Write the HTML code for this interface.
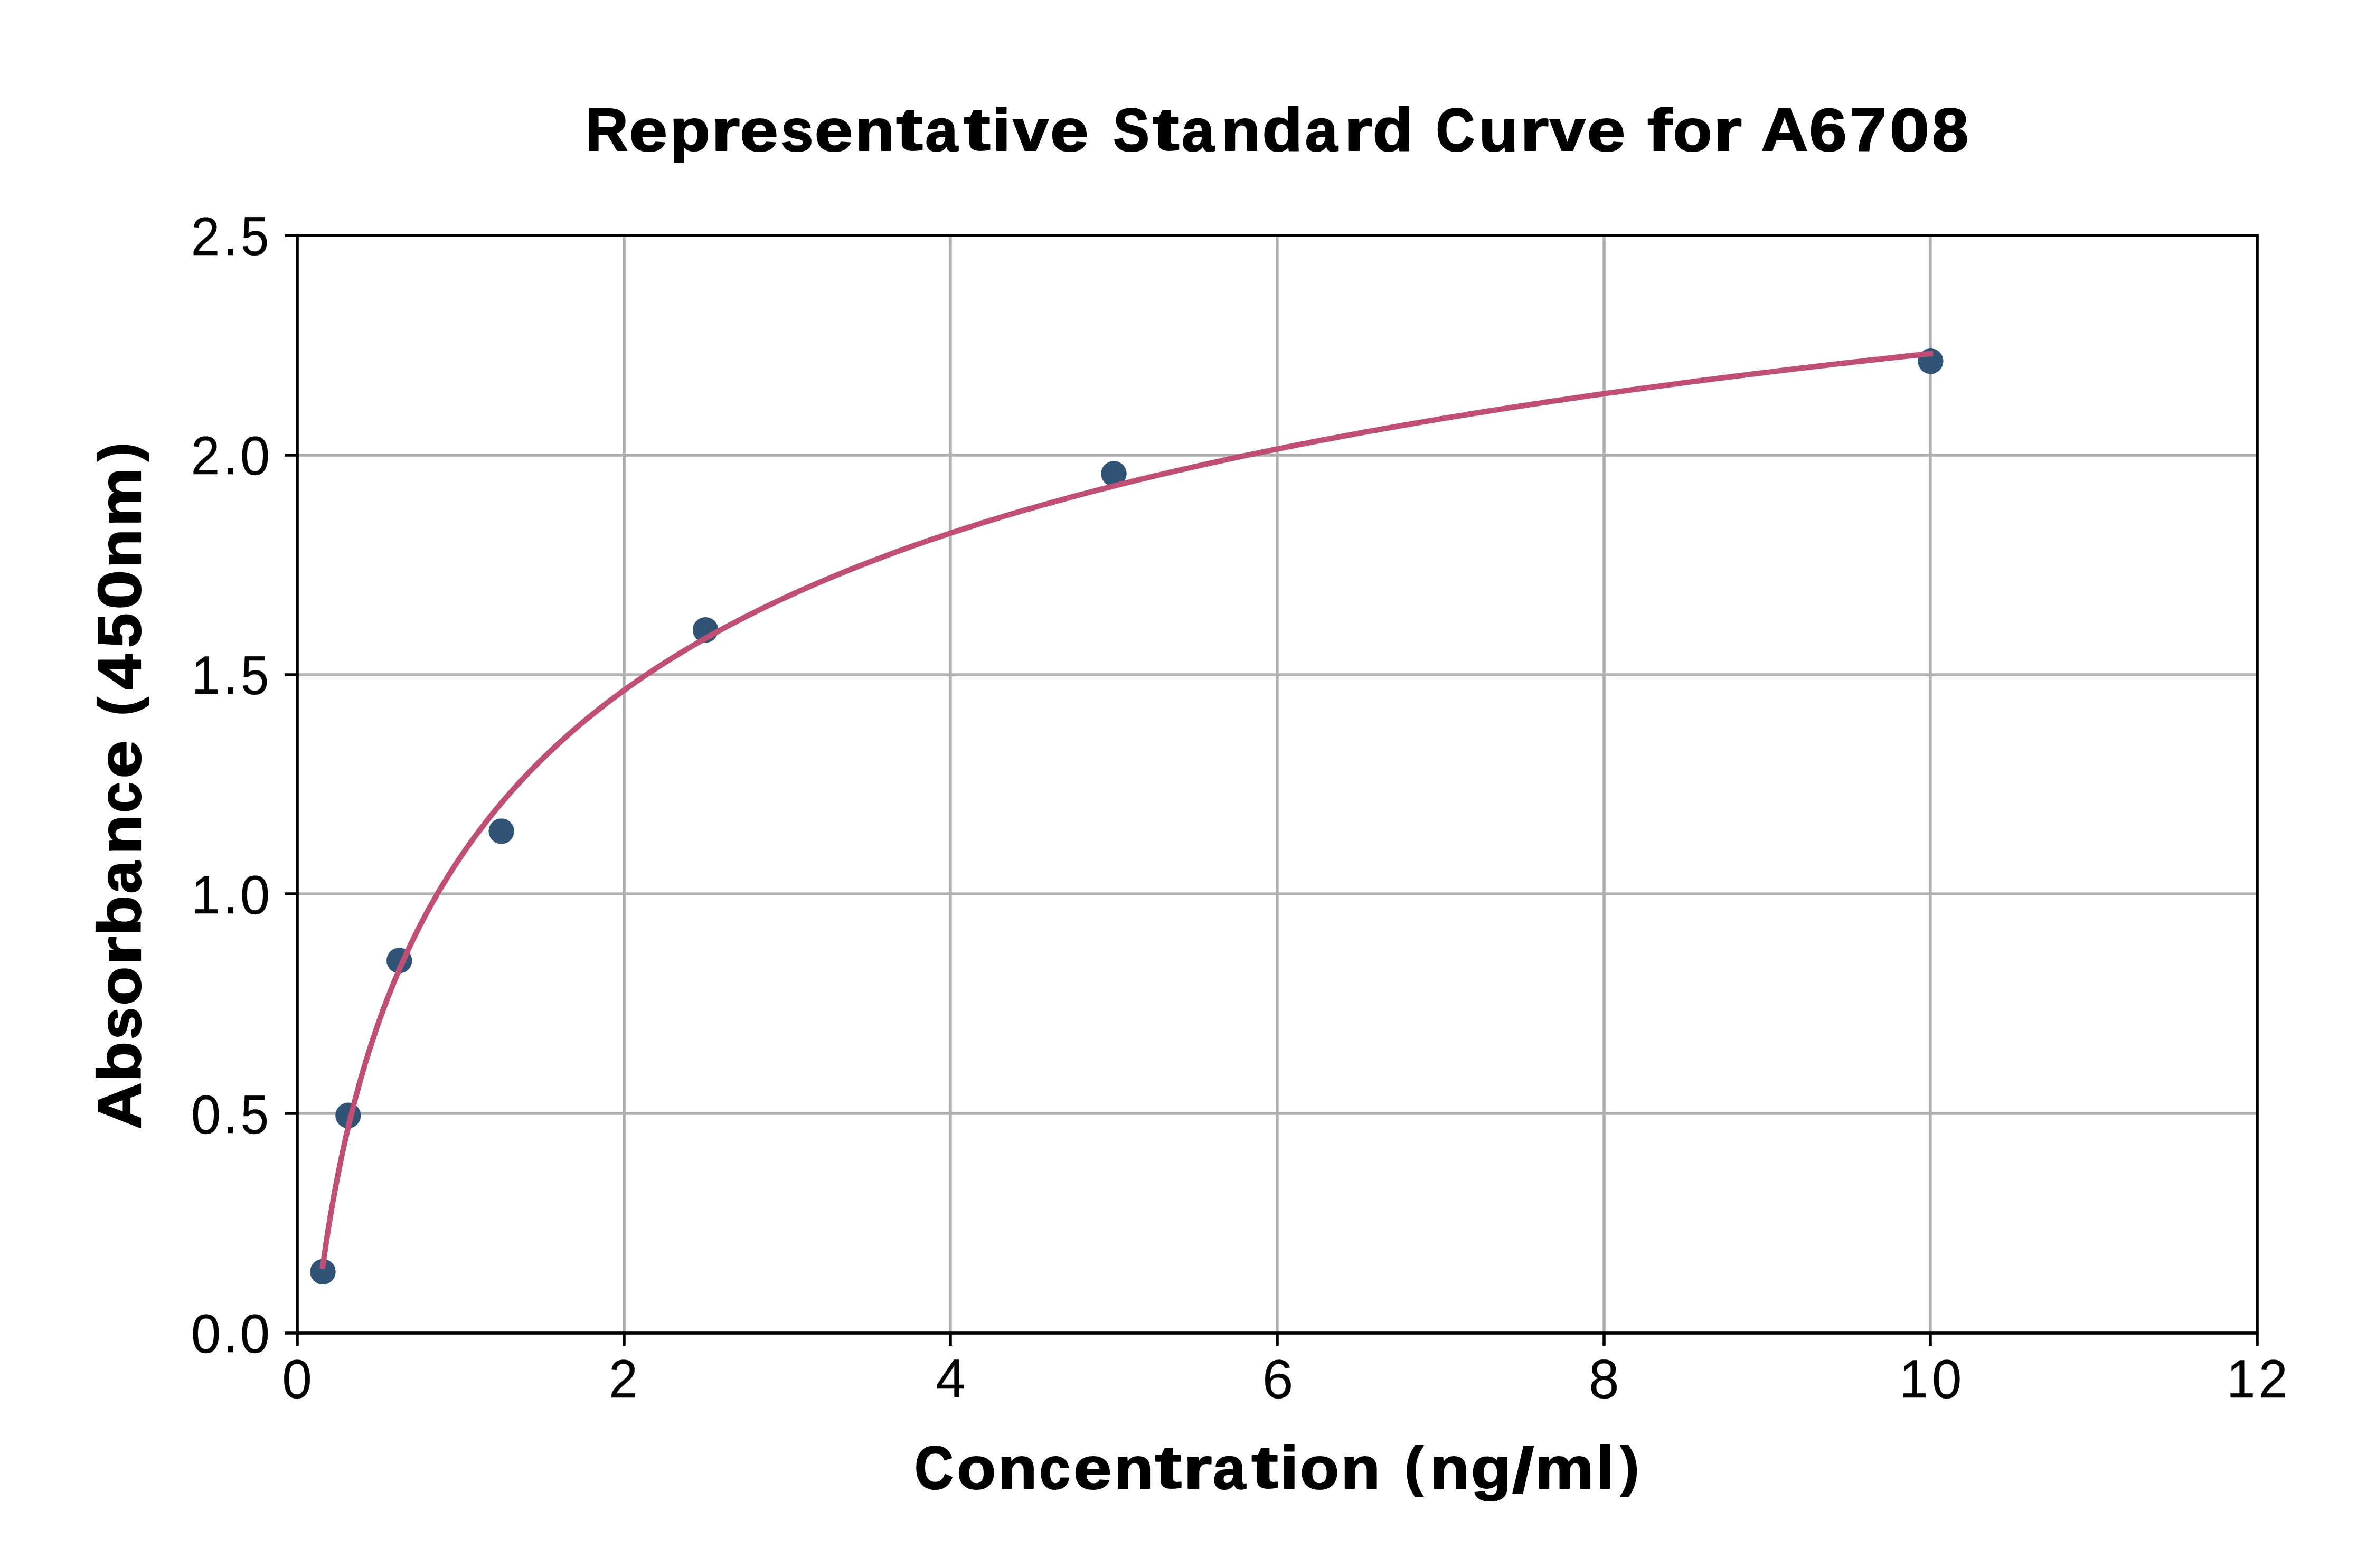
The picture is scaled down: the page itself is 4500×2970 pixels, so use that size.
<!DOCTYPE html>
<html><head><meta charset="utf-8"><title>Representative Standard Curve for A6708</title><style>html,body{margin:0;padding:0;background:#fff;width:4500px;height:2970px;overflow:hidden}svg{display:block}text{font-family:"Liberation Sans",sans-serif;fill:#000;stroke:#000;stroke-width:0.4px;stroke-linejoin:round}.b{font-weight:bold;stroke-width:2.2px}</style></head><body>
<svg width="4500" height="2970" viewBox="0 0 4500 2970">
<rect width="4500" height="2970" fill="#fff"/>
<path d="M563 2525V446M1182 2525V446M1800 2525V446M2419 2525V446M3038 2525V446M3656 2525V446M4275 2525V446M563 2525H4275M563 2109H4275M563 1693H4275M563 1278H4275M563 862H4275M563 446H4275" stroke="#b0b0b0" stroke-width="5.56" fill="none"/>
<circle cx="611.5" cy="2408.9" r="24.2" fill="#315476"/>
<circle cx="659.4" cy="2112.8" r="24.2" fill="#315476"/>
<circle cx="756.2" cy="1819.4" r="24.2" fill="#315476"/>
<circle cx="949.6" cy="1574.4" r="24.2" fill="#315476"/>
<circle cx="1336.1" cy="1193.1" r="24.2" fill="#315476"/>
<circle cx="2109.5" cy="897.3" r="24.2" fill="#315476"/>
<circle cx="3656.4" cy="684.1" r="24.2" fill="#315476"/>
<path d="M611.33 2398.39 L612.09 2392.90 L612.87 2387.39 L613.65 2381.85 L614.45 2376.30 L615.25 2370.72 L616.08 2365.12 L616.91 2359.50 L617.76 2353.86 L618.62 2348.19 L619.49 2342.51 L620.38 2336.80 L621.28 2331.07 L622.20 2325.32 L623.13 2319.55 L624.08 2313.76 L625.04 2307.94 L626.01 2302.11 L627.00 2296.25 L628.01 2290.38 L629.03 2284.48 L630.07 2278.57 L631.12 2272.63 L632.19 2266.67 L633.28 2260.69 L634.39 2254.69 L635.51 2248.68 L636.65 2242.64 L637.81 2236.58 L638.98 2230.50 L640.18 2224.40 L641.39 2218.29 L642.62 2212.15 L643.87 2206.00 L645.15 2199.82 L646.44 2193.63 L647.75 2187.42 L649.08 2181.19 L650.43 2174.94 L651.81 2168.67 L653.21 2162.38 L654.62 2156.08 L656.06 2149.76 L657.53 2143.41 L659.01 2137.06 L660.52 2130.68 L662.06 2124.29 L663.61 2117.88 L665.19 2111.45 L666.80 2105.01 L668.43 2098.55 L670.09 2092.07 L671.77 2085.57 L673.48 2079.06 L675.22 2072.54 L676.99 2065.99 L678.78 2059.44 L680.60 2052.86 L682.45 2046.27 L684.32 2039.67 L686.23 2033.05 L688.17 2026.41 L690.14 2019.76 L692.14 2013.10 L694.17 2006.42 L696.23 1999.73 L698.32 1993.02 L700.45 1986.30 L702.61 1979.57 L704.81 1972.82 L707.04 1966.06 L709.30 1959.29 L711.60 1952.50 L713.94 1945.70 L716.31 1938.89 L718.72 1932.06 L721.17 1925.23 L723.65 1918.38 L726.18 1911.52 L728.75 1904.65 L731.35 1897.77 L734.00 1890.88 L736.69 1883.97 L739.42 1877.06 L742.19 1870.14 L745.01 1863.20 L747.87 1856.26 L750.78 1849.30 L753.73 1842.34 L756.73 1835.37 L759.77 1828.39 L762.87 1821.40 L766.01 1814.40 L769.20 1807.39 L772.44 1800.38 L775.73 1793.35 L779.08 1786.32 L782.47 1779.28 L785.93 1772.24 L789.43 1765.19 L792.99 1758.13 L796.61 1751.07 L800.28 1743.99 L804.01 1736.92 L807.80 1729.83 L811.65 1722.75 L815.56 1715.65 L819.53 1708.56 L823.56 1701.45 L827.66 1694.34 L831.82 1687.23 L836.04 1680.12 L840.33 1673.00 L844.69 1665.88 L849.12 1658.75 L853.62 1651.62 L858.19 1644.49 L862.83 1637.35 L867.55 1630.22 L872.33 1623.08 L881.64 1609.50 L890.96 1596.31 L900.27 1583.49 L909.58 1571.01 L918.89 1558.87 L928.20 1547.04 L937.51 1535.51 L946.82 1524.27 L956.13 1513.30 L965.44 1502.59 L974.75 1492.13 L984.07 1481.92 L993.38 1471.93 L1002.69 1462.16 L1012.00 1452.60 L1021.31 1443.25 L1030.62 1434.09 L1039.93 1425.13 L1049.24 1416.34 L1058.55 1407.73 L1067.87 1399.28 L1077.18 1391.00 L1086.49 1382.88 L1095.80 1374.90 L1105.11 1367.08 L1114.42 1359.39 L1123.73 1351.84 L1133.04 1344.43 L1142.35 1337.14 L1151.66 1329.98 L1160.98 1322.94 L1170.29 1316.02 L1179.60 1309.21 L1188.91 1302.51 L1198.22 1295.92 L1207.53 1289.43 L1216.84 1283.05 L1226.15 1276.76 L1235.46 1270.57 L1244.77 1264.47 L1254.09 1258.46 L1263.40 1252.54 L1272.71 1246.70 L1282.02 1240.95 L1291.33 1235.28 L1300.64 1229.70 L1309.95 1224.18 L1319.26 1218.75 L1328.57 1213.39 L1337.89 1208.10 L1347.20 1202.88 L1356.51 1197.73 L1365.82 1192.64 L1375.13 1187.62 L1384.44 1182.67 L1393.75 1177.78 L1403.06 1172.95 L1412.37 1168.18 L1421.68 1163.46 L1431.00 1158.81 L1440.31 1154.21 L1449.62 1149.67 L1458.93 1145.18 L1468.24 1140.74 L1477.55 1136.35 L1486.86 1132.02 L1496.17 1127.73 L1505.48 1123.49 L1514.79 1119.30 L1524.11 1115.16 L1533.42 1111.06 L1542.73 1107.01 L1552.04 1103.00 L1561.35 1099.03 L1570.66 1095.11 L1579.97 1091.23 L1589.28 1087.39 L1598.59 1083.58 L1607.91 1079.82 L1617.22 1076.10 L1626.53 1072.41 L1635.84 1068.76 L1645.15 1065.15 L1654.46 1061.57 L1663.77 1058.03 L1673.08 1054.52 L1682.39 1051.05 L1691.70 1047.61 L1701.02 1044.20 L1710.33 1040.83 L1719.64 1037.49 L1728.95 1034.18 L1738.26 1030.90 L1747.57 1027.65 L1756.88 1024.43 L1766.19 1021.23 L1775.50 1018.07 L1784.81 1014.94 L1794.13 1011.83 L1803.44 1008.75 L1812.75 1005.70 L1822.06 1002.68 L1831.37 999.68 L1840.68 996.71 L1849.99 993.76 L1859.30 990.84 L1868.61 987.94 L1877.93 985.07 L1887.24 982.22 L1896.55 979.39 L1905.86 976.59 L1915.17 973.81 L1924.48 971.05 L1933.79 968.32 L1943.10 965.61 L1952.41 962.92 L1961.72 960.25 L1971.04 957.60 L1980.35 954.97 L1989.66 952.37 L1998.97 949.78 L2008.28 947.21 L2017.59 944.67 L2026.90 942.14 L2036.21 939.63 L2045.52 937.14 L2054.84 934.67 L2064.15 932.22 L2073.46 929.78 L2082.77 927.37 L2092.08 924.97 L2101.39 922.59 L2110.70 920.22 L2120.01 917.88 L2129.32 915.55 L2138.63 913.24 L2147.95 910.94 L2157.26 908.66 L2166.57 906.39 L2175.88 904.15 L2185.19 901.91 L2194.50 899.70 L2203.81 897.49 L2213.12 895.31 L2222.43 893.13 L2231.74 890.98 L2241.06 888.83 L2250.37 886.71 L2259.68 884.59 L2268.99 882.49 L2278.30 880.41 L2287.61 878.33 L2296.92 876.27 L2306.23 874.23 L2315.54 872.20 L2324.86 870.18 L2334.17 868.17 L2343.48 866.18 L2352.79 864.20 L2362.10 862.23 L2371.41 860.27 L2380.72 858.33 L2390.03 856.40 L2399.34 854.48 L2408.65 852.57 L2417.97 850.68 L2427.28 848.79 L2436.59 846.92 L2445.90 845.06 L2455.21 843.21 L2464.52 841.37 L2473.83 839.54 L2483.14 837.73 L2492.45 835.92 L2501.76 834.13 L2511.08 832.34 L2520.39 830.57 L2529.70 828.80 L2539.01 827.05 L2548.32 825.31 L2557.63 823.57 L2566.94 821.85 L2576.25 820.14 L2585.56 818.43 L2594.88 816.74 L2604.19 815.05 L2613.50 813.38 L2622.81 811.71 L2632.12 810.06 L2641.43 808.41 L2650.74 806.77 L2660.05 805.14 L2669.36 803.52 L2678.67 801.91 L2687.99 800.31 L2697.30 798.72 L2706.61 797.13 L2715.92 795.55 L2725.23 793.99 L2734.54 792.43 L2743.85 790.88 L2753.16 789.33 L2762.47 787.80 L2771.78 786.27 L2781.10 784.75 L2790.41 783.24 L2799.72 781.74 L2809.03 780.24 L2818.34 778.75 L2827.65 777.27 L2836.96 775.80 L2846.27 774.34 L2855.58 772.88 L2864.90 771.43 L2874.21 769.99 L2883.52 768.55 L2892.83 767.12 L2902.14 765.70 L2911.45 764.29 L2920.76 762.88 L2930.07 761.48 L2939.38 760.09 L2948.69 758.70 L2958.01 757.32 L2967.32 755.95 L2976.63 754.58 L2985.94 753.22 L2995.25 751.87 L3004.56 750.52 L3013.87 749.18 L3023.18 747.85 L3032.49 746.52 L3041.80 745.20 L3051.12 743.89 L3060.43 742.58 L3069.74 741.27 L3079.05 739.98 L3088.36 738.69 L3097.67 737.40 L3106.98 736.12 L3116.29 734.85 L3125.60 733.59 L3134.92 732.32 L3144.23 731.07 L3153.54 729.82 L3162.85 728.58 L3172.16 727.34 L3181.47 726.10 L3190.78 724.88 L3200.09 723.66 L3209.40 722.44 L3218.71 721.23 L3228.03 720.02 L3237.34 718.82 L3246.65 717.63 L3255.96 716.44 L3265.27 715.25 L3274.58 714.08 L3283.89 712.90 L3293.20 711.73 L3302.51 710.57 L3311.82 709.41 L3321.14 708.26 L3330.45 707.11 L3339.76 705.96 L3349.07 704.82 L3358.38 703.69 L3367.69 702.56 L3377.00 701.43 L3386.31 700.31 L3395.62 699.20 L3404.94 698.09 L3414.25 696.98 L3423.56 695.88 L3432.87 694.78 L3442.18 693.69 L3451.49 692.60 L3460.80 691.52 L3470.11 690.44 L3479.42 689.37 L3488.73 688.30 L3498.05 687.23 L3507.36 686.17 L3516.67 685.11 L3525.98 684.06 L3535.29 683.01 L3544.60 681.96 L3553.91 680.92 L3563.22 679.89 L3572.53 678.85 L3581.85 677.83 L3591.16 676.80 L3600.47 675.78 L3609.78 674.77 L3619.09 673.75 L3628.40 672.75 L3637.71 671.74 L3647.02 670.74 L3656.33 669.74" stroke="#c04f75" stroke-width="10.42" fill="none" stroke-linecap="square" stroke-linejoin="round"/>
<rect x="563.0" y="446.0" width="3712.0" height="2079.0" fill="none" stroke="#000" stroke-width="5.56" stroke-linejoin="miter"/>
<path d="M563 2525v24.0M1182 2525v24.0M1800 2525v24.0M2419 2525v24.0M3038 2525v24.0M3656 2525v24.0M4275 2525v24.0M563 2525h-24.0M563 2109h-24.0M563 1693h-24.0M563 1278h-24.0M563 862h-24.0M563 446h-24.0" stroke="#000" stroke-width="5.56" fill="none"/>
<text x="534.23" y="2647.67" font-size="103.30" textLength="56.53" lengthAdjust="spacingAndGlyphs">0</text>
<text x="1153.28" y="2646.80" font-size="102.77" textLength="54.45" lengthAdjust="spacingAndGlyphs">2</text>
<text x="1772.37" y="2645.80" font-size="102.44" textLength="56.56" lengthAdjust="spacingAndGlyphs">4</text>
<text x="2390.86" y="2647.67" font-size="103.30" textLength="58.51" lengthAdjust="spacingAndGlyphs">6</text>
<text x="3009.24" y="2647.67" font-size="103.30" textLength="57.14" lengthAdjust="spacingAndGlyphs">8</text>
<text x="3597.81" y="2647.30" font-size="102.44" textLength="53.92" lengthAdjust="spacingAndGlyphs">1</text>
<text x="3658.81" y="2647.67" font-size="103.30" textLength="56.53" lengthAdjust="spacingAndGlyphs">0</text>
<text x="4217.31" y="2646.80" font-size="102.44" textLength="53.92" lengthAdjust="spacingAndGlyphs">1</text>
<text x="4278.07" y="2646.80" font-size="102.77" textLength="54.45" lengthAdjust="spacingAndGlyphs">2</text>
<text x="361.73" y="2561.67" font-size="103.30" textLength="56.53" lengthAdjust="spacingAndGlyphs">0</text>
<text x="422.32" y="2561.30" font-size="109.02" textLength="28.06" lengthAdjust="spacingAndGlyphs">.</text>
<text x="454.49" y="2561.67" font-size="103.30" textLength="56.53" lengthAdjust="spacingAndGlyphs">0</text>
<text x="361.73" y="2146.67" font-size="103.30" textLength="56.53" lengthAdjust="spacingAndGlyphs">0</text>
<text x="422.32" y="2146.30" font-size="109.02" textLength="28.06" lengthAdjust="spacingAndGlyphs">.</text>
<text x="455.71" y="2146.67" font-size="102.98" textLength="53.32" lengthAdjust="spacingAndGlyphs">5</text>
<text x="362.81" y="1730.30" font-size="102.44" textLength="53.92" lengthAdjust="spacingAndGlyphs">1</text>
<text x="422.55" y="1730.30" font-size="109.02" textLength="28.06" lengthAdjust="spacingAndGlyphs">.</text>
<text x="454.72" y="1730.67" font-size="103.30" textLength="56.53" lengthAdjust="spacingAndGlyphs">0</text>
<text x="362.81" y="1314.30" font-size="102.44" textLength="53.92" lengthAdjust="spacingAndGlyphs">1</text>
<text x="422.55" y="1314.30" font-size="109.02" textLength="28.06" lengthAdjust="spacingAndGlyphs">.</text>
<text x="455.94" y="1314.67" font-size="102.98" textLength="53.32" lengthAdjust="spacingAndGlyphs">5</text>
<text x="361.78" y="898.30" font-size="102.77" textLength="54.45" lengthAdjust="spacingAndGlyphs">2</text>
<text x="422.61" y="898.30" font-size="109.02" textLength="28.06" lengthAdjust="spacingAndGlyphs">.</text>
<text x="454.78" y="898.67" font-size="103.30" textLength="56.53" lengthAdjust="spacingAndGlyphs">0</text>
<text x="361.78" y="482.80" font-size="102.77" textLength="54.45" lengthAdjust="spacingAndGlyphs">2</text>
<text x="422.61" y="482.80" font-size="109.02" textLength="28.06" lengthAdjust="spacingAndGlyphs">.</text>
<text x="456.00" y="483.17" font-size="102.98" textLength="53.32" lengthAdjust="spacingAndGlyphs">5</text>
<text class="b" x="1109.12" y="285.40" font-size="114.54" textLength="80.70" lengthAdjust="spacingAndGlyphs">R</text>
<text class="b" x="1191.64" y="285.88" font-size="112.44" textLength="72.57" lengthAdjust="spacingAndGlyphs">e</text>
<text class="b" x="1268.40" y="285.42" font-size="111.29" textLength="76.38" lengthAdjust="spacingAndGlyphs">p</text>
<text class="b" x="1347.00" y="285.40" font-size="111.46" textLength="54.24" lengthAdjust="spacingAndGlyphs">r</text>
<text class="b" x="1401.32" y="285.88" font-size="112.44" textLength="72.57" lengthAdjust="spacingAndGlyphs">e</text>
<text class="b" x="1478.88" y="285.88" font-size="112.34" textLength="61.32" lengthAdjust="spacingAndGlyphs">s</text>
<text class="b" x="1542.82" y="285.88" font-size="112.44" textLength="72.57" lengthAdjust="spacingAndGlyphs">e</text>
<text class="b" x="1619.79" y="285.40" font-size="111.46" textLength="74.49" lengthAdjust="spacingAndGlyphs">n</text>
<text class="b" x="1697.21" y="284.39" font-size="114.68" textLength="50.61" lengthAdjust="spacingAndGlyphs">t</text>
<text class="b" x="1752.23" y="285.88" font-size="112.44" textLength="61.82" lengthAdjust="spacingAndGlyphs">a</text>
<text class="b" x="1825.30" y="284.39" font-size="114.68" textLength="50.61" lengthAdjust="spacingAndGlyphs">t</text>
<text class="b" x="1879.37" y="285.40" font-size="113.47" textLength="34.87" lengthAdjust="spacingAndGlyphs">i</text>
<text class="b" x="1918.10" y="285.40" font-size="110.85" textLength="67.93" lengthAdjust="spacingAndGlyphs">v</text>
<text class="b" x="1989.00" y="285.88" font-size="112.44" textLength="72.57" lengthAdjust="spacingAndGlyphs">e</text>
<text class="b" x="2108.37" y="285.84" font-size="115.59" textLength="68.70" lengthAdjust="spacingAndGlyphs">S</text>
<text class="b" x="2183.00" y="284.39" font-size="114.68" textLength="50.61" lengthAdjust="spacingAndGlyphs">t</text>
<text class="b" x="2238.02" y="285.88" font-size="112.44" textLength="61.82" lengthAdjust="spacingAndGlyphs">a</text>
<text class="b" x="2312.77" y="285.40" font-size="111.46" textLength="74.49" lengthAdjust="spacingAndGlyphs">n</text>
<text class="b" x="2390.44" y="285.86" font-size="114.10" textLength="76.38" lengthAdjust="spacingAndGlyphs">d</text>
<text class="b" x="2471.63" y="285.88" font-size="112.44" textLength="61.82" lengthAdjust="spacingAndGlyphs">a</text>
<text class="b" x="2545.24" y="285.40" font-size="111.46" textLength="54.24" lengthAdjust="spacingAndGlyphs">r</text>
<text class="b" x="2599.75" y="285.86" font-size="114.10" textLength="76.38" lengthAdjust="spacingAndGlyphs">d</text>
<text class="b" x="2719.46" y="285.84" font-size="115.59" textLength="73.68" lengthAdjust="spacingAndGlyphs">C</text>
<text class="b" x="2800.77" y="285.88" font-size="111.76" textLength="74.49" lengthAdjust="spacingAndGlyphs">u</text>
<text class="b" x="2878.90" y="285.40" font-size="111.46" textLength="54.24" lengthAdjust="spacingAndGlyphs">r</text>
<text class="b" x="2934.75" y="285.40" font-size="110.85" textLength="67.93" lengthAdjust="spacingAndGlyphs">v</text>
<text class="b" x="3005.65" y="285.88" font-size="112.44" textLength="72.57" lengthAdjust="spacingAndGlyphs">e</text>
<text class="b" x="3119.71" y="285.40" font-size="113.47" textLength="47.14" lengthAdjust="spacingAndGlyphs">f</text>
<text class="b" x="3168.40" y="285.88" font-size="112.44" textLength="74.06" lengthAdjust="spacingAndGlyphs">o</text>
<text class="b" x="3244.84" y="285.40" font-size="111.46" textLength="54.24" lengthAdjust="spacingAndGlyphs">r</text>
<text class="b" x="3335.64" y="285.40" font-size="114.54" textLength="89.03" lengthAdjust="spacingAndGlyphs">A</text>
<text class="b" x="3426.34" y="285.85" font-size="115.44" textLength="71.62" lengthAdjust="spacingAndGlyphs">6</text>
<text class="b" x="3503.52" y="285.40" font-size="114.54" textLength="69.73" lengthAdjust="spacingAndGlyphs">7</text>
<text class="b" x="3578.74" y="285.84" font-size="115.59" textLength="75.40" lengthAdjust="spacingAndGlyphs">0</text>
<text class="b" x="3658.93" y="285.84" font-size="115.59" textLength="69.22" lengthAdjust="spacingAndGlyphs">8</text>
<text class="b" x="1731.92" y="2819.84" font-size="115.59" textLength="73.68" lengthAdjust="spacingAndGlyphs">C</text>
<text class="b" x="1812.15" y="2819.88" font-size="112.44" textLength="74.06" lengthAdjust="spacingAndGlyphs">o</text>
<text class="b" x="1889.74" y="2819.40" font-size="111.46" textLength="74.49" lengthAdjust="spacingAndGlyphs">n</text>
<text class="b" x="1968.20" y="2819.88" font-size="112.44" textLength="58.67" lengthAdjust="spacingAndGlyphs">c</text>
<text class="b" x="2033.09" y="2819.88" font-size="112.44" textLength="72.57" lengthAdjust="spacingAndGlyphs">e</text>
<text class="b" x="2110.06" y="2819.40" font-size="111.46" textLength="74.49" lengthAdjust="spacingAndGlyphs">n</text>
<text class="b" x="2187.48" y="2818.39" font-size="114.68" textLength="50.61" lengthAdjust="spacingAndGlyphs">t</text>
<text class="b" x="2241.13" y="2819.40" font-size="111.46" textLength="54.24" lengthAdjust="spacingAndGlyphs">r</text>
<text class="b" x="2297.30" y="2819.88" font-size="112.44" textLength="61.82" lengthAdjust="spacingAndGlyphs">a</text>
<text class="b" x="2370.37" y="2818.39" font-size="114.68" textLength="50.61" lengthAdjust="spacingAndGlyphs">t</text>
<text class="b" x="2424.44" y="2819.40" font-size="113.47" textLength="34.87" lengthAdjust="spacingAndGlyphs">i</text>
<text class="b" x="2462.00" y="2819.88" font-size="112.44" textLength="74.06" lengthAdjust="spacingAndGlyphs">o</text>
<text class="b" x="2539.58" y="2819.40" font-size="111.46" textLength="74.49" lengthAdjust="spacingAndGlyphs">n</text>
<text class="b" x="2660.31" y="2812.51" font-size="103.80" textLength="35.56" lengthAdjust="spacingAndGlyphs">(</text>
<text class="b" x="2708.15" y="2819.40" font-size="111.46" textLength="74.49" lengthAdjust="spacingAndGlyphs">n</text>
<text class="b" x="2785.81" y="2819.69" font-size="111.79" textLength="76.53" lengthAdjust="spacingAndGlyphs">g</text>
<text class="b" x="2864.04" y="2827.31" font-size="119.67" textLength="41.28" lengthAdjust="spacingAndGlyphs">/</text>
<text class="b" x="2907.02" y="2819.40" font-size="111.46" textLength="111.63" lengthAdjust="spacingAndGlyphs">m</text>
<text class="b" x="3022.42" y="2819.40" font-size="113.47" textLength="34.87" lengthAdjust="spacingAndGlyphs">l</text>
<text class="b" x="3068.73" y="2812.51" font-size="103.80" textLength="35.56" lengthAdjust="spacingAndGlyphs">)</text>
<g transform="translate(267.00 2137.54) rotate(-90)">
<text class="b" x="-1.43" y="-1.10" font-size="114.54" textLength="89.03" lengthAdjust="spacingAndGlyphs">A</text>
<text class="b" x="88.18" y="-0.64" font-size="114.10" textLength="76.38" lengthAdjust="spacingAndGlyphs">b</text>
<text class="b" x="168.50" y="-0.62" font-size="112.34" textLength="61.32" lengthAdjust="spacingAndGlyphs">s</text>
<text class="b" x="232.80" y="-0.62" font-size="112.44" textLength="74.06" lengthAdjust="spacingAndGlyphs">o</text>
<text class="b" x="309.24" y="-1.10" font-size="111.46" textLength="54.24" lengthAdjust="spacingAndGlyphs">r</text>
<text class="b" x="364.98" y="-0.64" font-size="114.10" textLength="76.38" lengthAdjust="spacingAndGlyphs">b</text>
<text class="b" x="444.95" y="-0.62" font-size="112.44" textLength="61.82" lengthAdjust="spacingAndGlyphs">a</text>
<text class="b" x="519.70" y="-1.10" font-size="111.46" textLength="74.49" lengthAdjust="spacingAndGlyphs">n</text>
<text class="b" x="598.16" y="-0.62" font-size="112.44" textLength="58.67" lengthAdjust="spacingAndGlyphs">c</text>
<text class="b" x="663.05" y="-0.62" font-size="112.44" textLength="72.57" lengthAdjust="spacingAndGlyphs">e</text>
<text class="b" x="781.64" y="-7.99" font-size="103.80" textLength="35.56" lengthAdjust="spacingAndGlyphs">(</text>
<text class="b" x="831.35" y="-1.10" font-size="114.54" textLength="67.51" lengthAdjust="spacingAndGlyphs">4</text>
<text class="b" x="910.44" y="-0.65" font-size="115.19" textLength="65.70" lengthAdjust="spacingAndGlyphs">5</text>
<text class="b" x="982.77" y="-0.66" font-size="115.59" textLength="75.40" lengthAdjust="spacingAndGlyphs">0</text>
<text class="b" x="1061.42" y="-1.10" font-size="111.46" textLength="74.49" lengthAdjust="spacingAndGlyphs">n</text>
<text class="b" x="1140.18" y="-1.10" font-size="111.46" textLength="111.63" lengthAdjust="spacingAndGlyphs">m</text>
<text class="b" x="1263.80" y="-7.99" font-size="103.80" textLength="35.56" lengthAdjust="spacingAndGlyphs">)</text>
</g>
</svg></body></html>
